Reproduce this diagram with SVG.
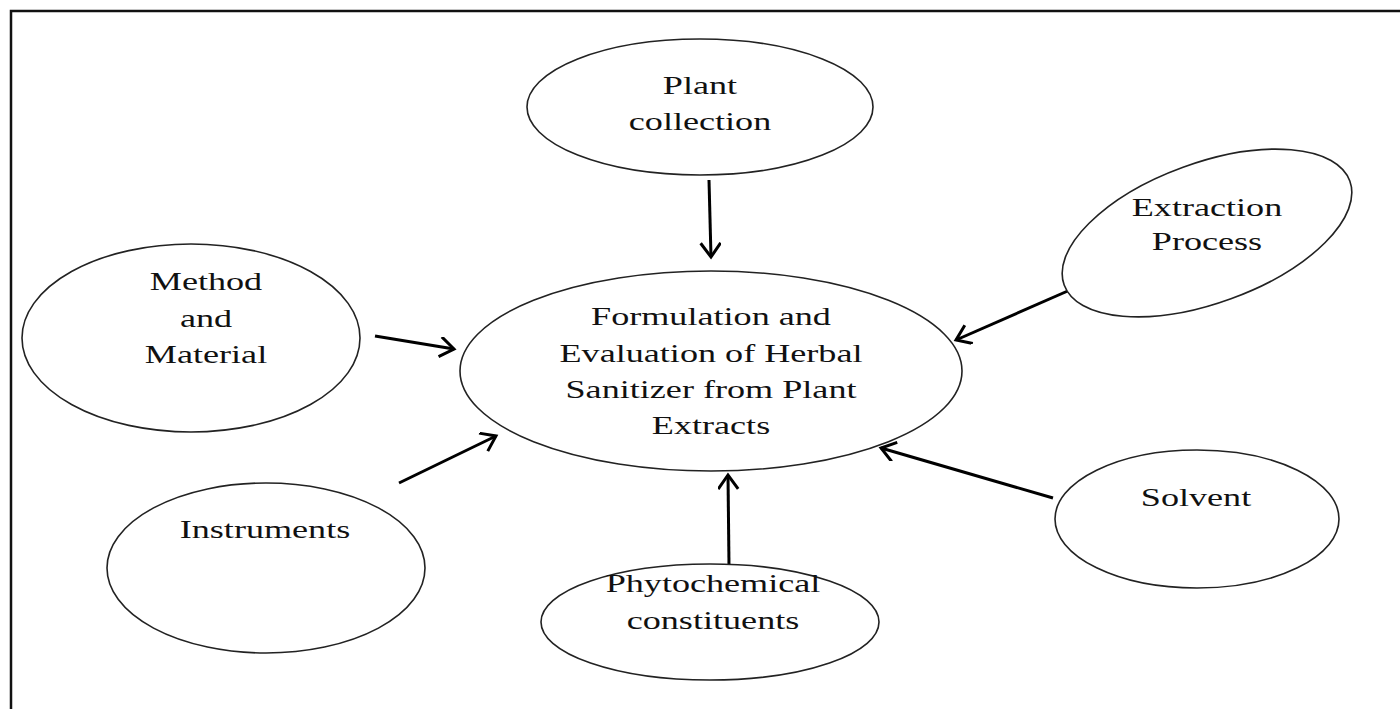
<svg xmlns="http://www.w3.org/2000/svg" width="1400" height="709" viewBox="0 0 1400 709">
<style>
.n{fill:#fff;stroke:#222;stroke-width:1.6}
.t{font-family:"Liberation Serif","Times New Roman",serif;font-size:26px;fill:#111;text-anchor:middle}
.c{stroke:#000;stroke-width:3;fill:none;marker-end:url(#ah)}
</style>
<defs>
<marker id="ah" markerUnits="userSpaceOnUse" markerWidth="24" markerHeight="24" refX="17" refY="10" orient="auto">
<path d="M3,0 L17,10 L3,20" fill="none" stroke="#000" stroke-width="3"/>
</marker>
</defs>
<rect width="1400" height="709" fill="#fff"/>
<path d="M11,709 V11 H1400" fill="none" stroke="#111" stroke-width="2.5"/>
<g id="connectors">
<line class="c" x1="709" y1="180" x2="711" y2="257"/>
<line class="c" x1="375" y1="336" x2="454" y2="349"/>
<line class="c" x1="1070" y1="290" x2="956" y2="340"/>
<line class="c" x1="1053" y1="498" x2="881" y2="448"/>
<line class="c" x1="729" y1="565" x2="728" y2="475"/>
<line class="c" x1="399" y1="483" x2="496" y2="436"/>
</g>
<g id="center">
<ellipse class="n" cx="711" cy="371" rx="251" ry="100"/>
<g transform="translate(711 0) scale(1.39 1)">
<text class="t" x="0" y="325">Formulation and</text>
<text class="t" x="0" y="362">Evaluation of Herbal</text>
<text class="t" x="0" y="398">Sanitizer from Plant</text>
<text class="t" x="0" y="434">Extracts</text>
</g>
</g>
<g id="plant-collection">
<ellipse class="n" cx="700" cy="107" rx="173" ry="68"/>
<g transform="translate(700 0) scale(1.39 1)">
<text class="t" x="0" y="94">Plant</text>
<text class="t" x="0" y="130">collection</text>
</g>
</g>
<g id="method">
<ellipse class="n" cx="191" cy="338" rx="169" ry="94"/>
<g transform="translate(206 0) scale(1.39 1)">
<text class="t" x="0" y="290">Method</text>
<text class="t" x="0" y="327">and</text>
<text class="t" x="0" y="363">Material</text>
</g>
</g>
<g id="extraction">
<ellipse class="n" cx="1207" cy="233" rx="152" ry="70" transform="rotate(-20 1207 233)"/>
<g transform="translate(1207 0) scale(1.39 1)">
<text class="t" x="0" y="216">Extraction</text>
<text class="t" x="0" y="250">Process</text>
</g>
</g>
<g id="solvent">
<ellipse class="n" cx="1197" cy="519" rx="142" ry="69"/>
<g transform="translate(1196 0) scale(1.39 1)">
<text class="t" x="0" y="506">Solvent</text>
</g>
</g>
<g id="instruments">
<ellipse class="n" cx="266" cy="568" rx="159" ry="85"/>
<g transform="translate(265 0) scale(1.39 1)">
<text class="t" x="0" y="538">Instruments</text>
</g>
</g>
<g id="phytochemical">
<ellipse class="n" cx="710" cy="622" rx="169" ry="58"/>
<g transform="translate(713 0) scale(1.39 1)">
<text class="t" x="0" y="592">Phytochemical</text>
<text class="t" x="0" y="629">constituents</text>
</g>
</g>
</svg>
